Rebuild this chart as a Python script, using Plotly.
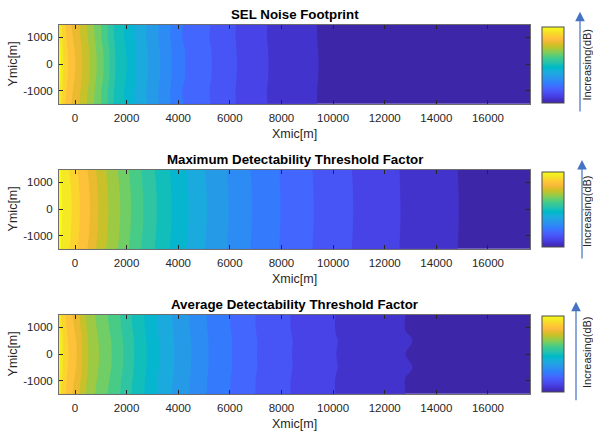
import plotly.graph_objects as go

# ---------------------------------------------------------------- data
# grid extent (m) and grid rows (m)
X_EDGES = [-625, 17650]
Y_ROWS = [-1500, -1000, -500, 0, 500, 1000, 1500]

# value (band index, relative dB) at each grid column along the centre line:
# left edge, the 20 contour crossings, right edge
band_at_column = [20.0, 19.5, 18.5, 17.5, 16.5, 15.5, 14.5, 13.5, 12.5, 11.5, 10.5,
                  9.5, 8.5, 7.5, 6.5, 5.5, 4.5, 3.5, 2.5, 1.5, 0.5, 0.0]

# --- SEL noise footprint: contour crossings on y=0 (m)
sel_x = [-540, -450, -260, 20, 290, 580, 840, 1110, 1340, 1570, 2000, 2370,
         2830, 3300, 3750, 4270, 5300, 6280, 7500, 9440]
sel_drop_edge = [0.8, 0.8, 0.6, 0.6, 0.5, 0.43, 0.4, 0.4, 0.35, 0.3, 0.3, 0.18,
                 0.15, 0.12, 0.12, 0.08, 0.12, 0.05, 0.05, 0.04, 0.03, 0.0]
sel_drop_1000 = [0.5, 0.5, 0.4, 0.4, 0.35, 0.3, 0.3, 0.3, 0.3, 0.28, 0.25, 0.2,
                 0.18, 0.15, 0.15, 0.12, 0.25, 0.07, 0.06, 0.05, 0.03, 0.0]
sel_drop_500 = [0.15, 0.15, 0.12, 0.12, 0.1, 0.08, 0.08, 0.08, 0.07, 0.07, 0.06, 0.05,
                0.04, 0.04, 0.03, 0.03, 0.0, 0.02, 0.02, 0.01, 0.01, 0.0]

# --- Maximum detectability threshold factor
max_x = [-490, -130, 190, 580, 900, 1290, 1750, 2170, 2650, 3170, 3750, 4400,
         5110, 5950, 6860, 7960, 9250, 10780, 12610, 14870]
max_drop_edge = [0.0, 0.4, 0.23, 0.3, 0.25, 0.28, 0.23, 0.21, 0.2, 0.19, 0.16, 0.15,
                 0.14, 0.11, 0.08, 0.07, 0.05, 0.04, 0.035, 0.02, 0.017, 0.0]
max_drop_1000 = [0.0, 0.18, 0.1, 0.14, 0.12, 0.13, 0.1, 0.1, 0.09, 0.09, 0.07, 0.07,
                 0.06, 0.05, 0.04, 0.03, 0.02, 0.02, 0.015, 0.01, 0.008, 0.0]
max_drop_500 = [0.0, 0.05, 0.03, 0.03, 0.03, 0.03, 0.03, 0.02, 0.02, 0.02, 0.02, 0.02,
                0.015, 0.01, 0.01, 0.01, 0.005, 0.005, 0.004, 0.002, 0.002, 0.0]

# --- Average detectability threshold factor
avg_x = [-563, -454, -252, 66, 272, 516, 931, 1424, 1874, 2290, 2782, 3260,
         3842, 4501, 5173, 6081, 7051, 8409, 10128, 12806]
avg_drop_edge = [0.8, 0.8, 0.6, 0.55, 0.5, 0.45, 0.4, 0.35, 0.3, 0.28, 0.25, 0.2,
                 0.18, 0.15, 0.12, 0.1, 0.08, 0.06, 0.04, 0.02, 0.0, 0.0]
avg_drop_1000 = [0.5, 0.5, 0.4, 0.35, 0.3, 0.28, 0.25, 0.22, 0.2, 0.18, 0.16, 0.14,
                 0.12, 0.1, 0.09, 0.08, 0.06, 0.05, 0.04, 0.03, 0.01, 0.0]
avg_drop_500 = [0.15, 0.15, 0.12, 0.1, 0.08, 0.07, 0.06, 0.05, 0.04, 0.04, 0.03, 0.03,
                0.02, 0.02, 0.01, 0.0, -0.005, -0.01, -0.015, -0.02, -0.03, 0.0]

titles = ["SEL Noise Footprint",
          "Maximum Detectability Threshold Factor",
          "Average Detectability Threshold Factor"]
x_tick_vals = [0, 2000, 4000, 6000, 8000, 10000, 12000, 14000, 16000]
x_tick_text = ["0", "2000", "4000", "6000", "8000", "10000", "12000", "14000", "16000"]
y_tick_vals = [-1000, 0, 1000]
y_tick_text = ["-1000", "0", "1000"]
x_label = "Xmic[m]"
y_label = "Ymic[m]"
cbar_label = "Increasing(dB)"

# MATLAB parula (64 entries)
parula_rgb = [
    (0.2422, 0.1504, 0.6603), (0.2504, 0.1650, 0.7076), (0.2578, 0.1818, 0.7511), (0.2647, 0.1978, 0.7952),
    (0.2706, 0.2147, 0.8364), (0.2751, 0.2342, 0.8710), (0.2783, 0.2559, 0.8991), (0.2803, 0.2782, 0.9221),
    (0.2813, 0.3006, 0.9414), (0.2810, 0.3228, 0.9579), (0.2795, 0.3447, 0.9717), (0.2760, 0.3667, 0.9829),
    (0.2699, 0.3892, 0.9906), (0.2602, 0.4123, 0.9952), (0.2440, 0.4358, 0.9988), (0.2206, 0.4603, 0.9973),
    (0.1963, 0.4847, 0.9892), (0.1834, 0.5074, 0.9798), (0.1786, 0.5289, 0.9682), (0.1764, 0.5499, 0.9520),
    (0.1687, 0.5703, 0.9359), (0.1540, 0.5902, 0.9218), (0.1460, 0.6091, 0.9079), (0.1380, 0.6276, 0.8973),
    (0.1248, 0.6459, 0.8883), (0.1113, 0.6635, 0.8763), (0.0952, 0.6798, 0.8598), (0.0689, 0.6948, 0.8394),
    (0.0297, 0.7082, 0.8163), (0.0036, 0.7203, 0.7917), (0.0067, 0.7312, 0.7660), (0.0433, 0.7411, 0.7394),
    (0.0964, 0.7500, 0.7120), (0.1408, 0.7584, 0.6842), (0.1717, 0.7670, 0.6554), (0.1938, 0.7758, 0.6251),
    (0.2161, 0.7843, 0.5923), (0.2470, 0.7918, 0.5567), (0.2906, 0.7973, 0.5188), (0.3406, 0.8008, 0.4789),
    (0.3909, 0.8029, 0.4354), (0.4456, 0.8024, 0.3909), (0.5044, 0.7993, 0.3480), (0.5616, 0.7942, 0.3045),
    (0.6174, 0.7876, 0.2612), (0.6720, 0.7793, 0.2227), (0.7242, 0.7698, 0.1910), (0.7738, 0.7598, 0.1646),
    (0.8203, 0.7498, 0.1535), (0.8634, 0.7406, 0.1596), (0.9035, 0.7330, 0.1774), (0.9393, 0.7288, 0.2100),
    (0.9728, 0.7298, 0.2394), (0.9956, 0.7434, 0.2371), (0.9970, 0.7659, 0.2199), (0.9952, 0.7893, 0.2028),
    (0.9892, 0.8136, 0.1885), (0.9786, 0.8386, 0.1766), (0.9676, 0.8639, 0.1643), (0.9610, 0.8890, 0.1537),
    (0.9597, 0.9135, 0.1423), (0.9628, 0.9373, 0.1265), (0.9691, 0.9606, 0.1064), (0.9769, 0.9839, 0.0805),
]
parula = [[i / (len(parula_rgb) - 1),
           "rgb(%d,%d,%d)" % tuple(round(255 * c) for c in rgb)]
          for i, rgb in enumerate(parula_rgb)]

# ---------------------------------------------------------------- build
def field(drop_edge, drop_1000, drop_500):
    zero = [0.0] * len(band_at_column)
    rows = [drop_edge, drop_1000, drop_500, zero, drop_500, drop_1000, drop_edge]
    return [[b - d for b, d in zip(band_at_column, r)] for r in rows]

datasets = [
    (sel_x, field(sel_drop_edge, sel_drop_1000, sel_drop_500)),
    (max_x, field(max_drop_edge, max_drop_1000, max_drop_500)),
    (avg_x, field(avg_drop_edge, avg_drop_1000, avg_drop_500)),
]

W, H = 593, 432
def px(x):
    return x / W
def py(y):
    return 1 - y / H

# plot boxes in pixels: (top, bottom)
boxes = [(24.5, 103.7), (169.5, 248.7), (314.5, 393.7)]
x_left, x_right = 59, 530
cbar_boxes = [(26.7, 102.7), (171.7, 246.7), (316.0, 391.7)]
arrow_specs = [(580, 11.7, 113), (582, 160, 260), (576, 301.7, 401.7)]
text_specs = [(586.5, 65), (587, 211), (586.5, 352.5)]

FONT = "Liberation Sans, Arial, sans-serif"
AXC = "#262626"

fig = go.Figure()
layout = dict(width=W, height=H, margin=dict(l=0, r=0, t=0, b=0),
              paper_bgcolor="white", plot_bgcolor="white", showlegend=False,
              font=dict(family=FONT, color=AXC))
annotations = []

for i, ((bx, z), title) in enumerate(zip(datasets, titles)):
    n = "" if i == 0 else str(i + 1)
    xcols = [X_EDGES[0]] + bx + [X_EDGES[1]]
    fig.add_trace(go.Contour(
        x=xcols, y=Y_ROWS, z=z, xaxis="x" + n, yaxis="y" + n,
        autocontour=False,
        contours=dict(start=0.5, end=19.5, size=1, coloring="fill", showlines=False),
        line=dict(width=0), colorscale=parula, showscale=False, hoverinfo="skip"))
    top, bot = boxes[i]
    ctop, cbot = cbar_boxes[i]
    fig.add_trace(go.Scatter(
        x=[None], y=[None], mode="markers", xaxis="x" + n, yaxis="y" + n,
        marker=dict(color=[0.5], colorscale=parula, cmin=0, cmax=1, showscale=True,
                    colorbar=dict(thickness=22, thicknessmode="pixels",
                                  len=(cbot - ctop) / H, lenmode="fraction",
                                  x=px(542.3), xanchor="left", xpad=0,
                                  y=py((ctop + cbot) / 2), yanchor="middle", ypad=0,
                                  outlinewidth=1, outlinecolor="#4d4d4d",
                                  showticklabels=False, ticks=""))))
    layout["xaxis" + n] = dict(
        domain=[px(x_left), px(x_right)], anchor="y" + n,
        range=[-620, 17630], tickvals=x_tick_vals, ticktext=x_tick_text,
        ticks="inside", ticklen=4,
        tickcolor=AXC, showline=True, linecolor="#6e6e6e", linewidth=1, mirror="ticks",
        showgrid=False, zeroline=False, tickfont=dict(size=11.5, color=AXC, family=FONT),
        ticklabelstandoff=3)
    layout["yaxis" + n] = dict(
        domain=[py(bot), py(top)], anchor="x" + n,
        range=[-1480, 1480], tickvals=y_tick_vals, ticktext=y_tick_text,
        ticks="inside", ticklen=4, tickcolor=AXC, showline=True, linecolor="#6e6e6e",
        linewidth=1, mirror="ticks", showgrid=False, zeroline=False,
        tickfont=dict(size=11.5, color=AXC, family=FONT), ticklabelstandoff=3)
    xc = (x_left + x_right) / 2
    annotations.append(dict(text="<b>%s</b>" % title, x=px(xc), y=py(top - 10.5),
                            xref="paper", yref="paper", showarrow=False,
                            xanchor="center", yanchor="middle",
                            font=dict(size=13.3, color="#000000", family=FONT)))
    annotations.append(dict(text=x_label, x=px(xc), y=py(bot + 30.5),
                            xref="paper", yref="paper", showarrow=False,
                            xanchor="center", yanchor="middle",
                            font=dict(size=12.5, color=AXC, family=FONT)))
    annotations.append(dict(text=y_label, x=px(13.3), y=py((top + bot) / 2),
                            xref="paper", yref="paper", showarrow=False, textangle=-90,
                            xanchor="center", yanchor="middle",
                            font=dict(size=12.5, color=AXC, family=FONT)))
    ax_x, tip_y, tail_y = arrow_specs[i]
    annotations.append(dict(text="", x=px(ax_x), y=py(tip_y), xref="paper", yref="paper",
                            showarrow=True, ax=0, ay=tail_y - tip_y, arrowhead=2,
                            arrowsize=1.6, arrowwidth=1.2, arrowcolor="#4472c4"))
    tx, ty = text_specs[i]
    annotations.append(dict(text=cbar_label, x=px(tx), y=py(ty), xref="paper", yref="paper",
                            showarrow=False, textangle=-90, xanchor="center", yanchor="middle",
                            font=dict(size=11, color=AXC, family=FONT)))

layout["annotations"] = annotations
fig.update_layout(**layout)
fig.write_html("out.html")
